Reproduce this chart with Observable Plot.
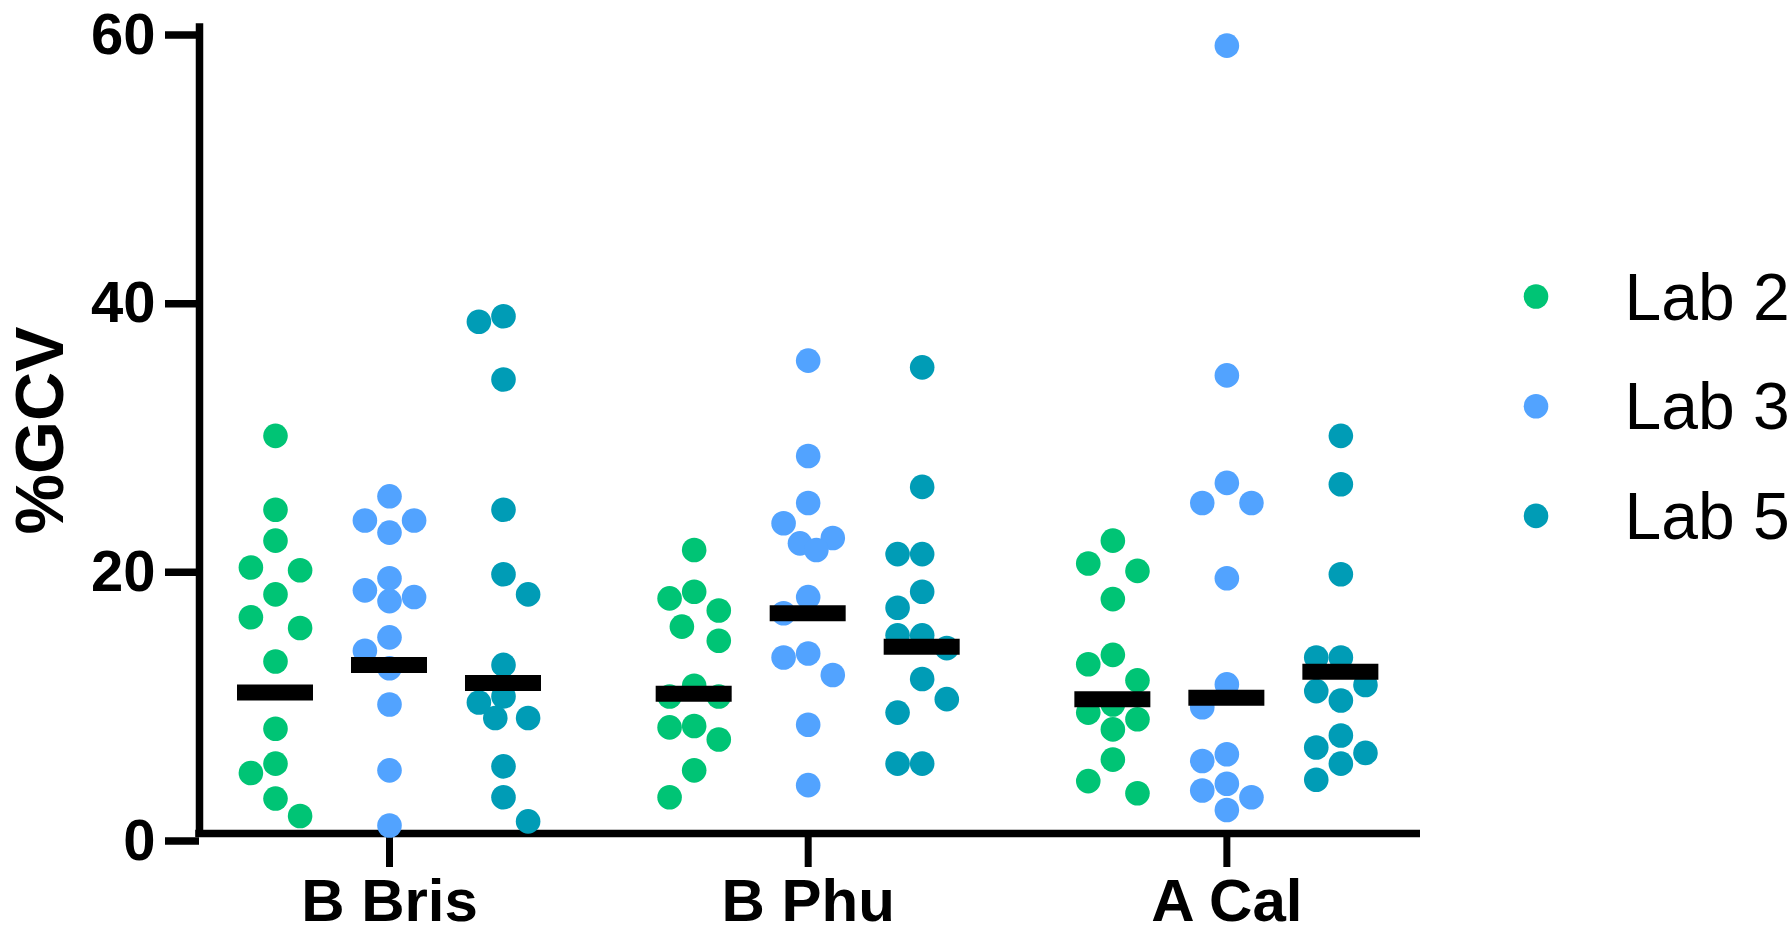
<!DOCTYPE html>
<html>
<head>
<meta charset="utf-8">
<script src="https://cdn.jsdelivr.net/npm/d3@7"></script>
<script src="https://cdn.jsdelivr.net/npm/@observablehq/plot@0.6"></script>
<style>
  html, body { margin: 0; padding: 0; background: #fff; overflow: hidden; }
  #chart svg { display: block; }
</style>
</head>
<body>
<div id="chart"></div>
<script>
// ---------- data ----------
const categories = ["B Bris", "B Phu", "A Cal"];
const labs = ["Lab 2", "Lab 3", "Lab 5"];
const labColors = ["#00C475", "#52A3FF", "#009CB6"];
const yTicks = [0, 20, 40, 60];

const bBrisLab2 = [29.6, 24.1, 21.8, 19.8, 19.6, 17.8, 16.1, 15.3, 12.8, 7.8, 5.2, 4.5, 2.6, 1.3];
const bBrisLab3 = [25.1, 23.3, 23.3, 22.4, 19.0, 18.1, 17.6, 17.3, 14.6, 13.6, 12.3, 9.6, 4.7, 0.6];
const bBrisLab5 = [38.5, 38.1, 33.8, 24.1, 19.3, 17.8, 12.55, 10.2, 9.75, 8.6, 8.6, 5.0, 2.7, 0.9];
const bPhuLab2  = [21.1, 18.0, 17.5, 16.6, 15.4, 14.35, 11.0, 10.2, 10.2, 8.0, 7.9, 7.0, 4.7, 2.7];
const bPhuLab3  = [35.2, 28.1, 24.6, 23.1, 22.0, 21.6, 21.1, 17.6, 16.4, 13.4, 13.1, 11.8, 8.1, 3.6];
const bPhuLab5  = [34.7, 25.8, 20.8, 20.8, 18.0, 16.8, 14.75, 14.75, 13.8, 11.5, 10.0, 9.0, 5.2, 5.2];
const aCalLab2  = [21.8, 20.1, 19.55, 17.45, 13.3, 12.6, 11.4, 9.6, 9.0, 8.5, 7.75, 5.5, 3.9, 3.0];
const aCalLab3  = [58.65, 34.1, 26.1, 24.6, 24.6, 19.0, 11.1, 9.4, 5.9, 5.4, 3.7, 3.2, 2.7, 1.75];
const aCalLab5  = [29.6, 26.0, 19.3, 13.1, 13.1, 11.05, 10.6, 9.9, 7.3, 6.4, 6.0, 5.2, 4.0];

// geometric-mean bars per lab, in category order
const meanLab2 = [10.5, 10.4, 10.0];
const meanLab3 = [12.55, 16.4, 10.1];
const meanLab5 = [11.2, 13.9, 12.05];

// ---------- layout ----------
const W = 1791, H = 934;
const margin = {left: 199, right: 371, top: 27, bottom: 101};
const xDomain = [-0.4538, 2.4625];
const yDomain = [0, 60];
const R = 12.3;               // dot radius (px)
const labGapPx = 114;         // distance between lab columns (px)
const barHalfPx = 38;         // half width of mean bar (px)
const axisW = 7.5;            // axis line width (px)

const pxPerUnit = (W - margin.left - margin.right) / (xDomain[1] - xDomain[0]);
const yPx = v => (H - margin.bottom) - (v - yDomain[0]) / (yDomain[1] - yDomain[0]) * (H - margin.bottom - margin.top);

const groups = [
  [bBrisLab2, bBrisLab3, bBrisLab5],
  [bPhuLab2, bPhuLab3, bPhuLab5],
  [aCalLab2, aCalLab3, aCalLab5]
];
const means = [meanLab2, meanLab3, meanLab5];

// column beeswarm (offsets in px) computed from the values, width limited to +-1 dot
function swarm(values) {
  const D = 2 * R, T = 1.2 * D;
  const placed = [];
  let nl = 0, nr = 0;
  return values.map(v => {
    const py = yPx(v);
    const minDist = c => placed.reduce((m, p) => Math.min(m, Math.hypot(p.dx - c, p.py - py)), Infinity);
    let chosen = null;
    if (minDist(0) >= T) chosen = 0;
    else {
      for (const m of [D, D / 2, D / 3]) {
        const first = nl <= nr ? -m : m;
        if (minDist(first) >= T) { chosen = first; break; }
        if (minDist(-first) >= T) { chosen = -first; break; }
      }
    }
    if (chosen === null) {
      const cands = [0, -D, D, -D / 2, D / 2, -D / 3, D / 3];
      chosen = cands.reduce((best, c) => minDist(c) > minDist(best) ? c : best, 0);
    }
    if (chosen < 0) nl++; else if (chosen > 0) nr++;
    placed.push({dx: chosen, py});
    return chosen;
  });
}

const points = [];
const bars = [];
categories.forEach((cat, ci) => {
  labs.forEach((lab, li) => {
    const cx = ci + (li - 1) * labGapPx / pxPerUnit;
    const vals = groups[ci][li];
    const offs = swarm(vals);
    vals.forEach((v, k) => points.push({category: cat, lab, value: v, x: cx + offs[k] / pxPerUnit}));
    bars.push({category: cat, lab, value: means[li][ci], cx});
  });
});

const font = "'Liberation Sans', Arial, Helvetica, sans-serif";
const legendTopPx = 296, legendStepPx = 109.7;

const chart = Plot.plot({
  width: W,
  height: H,
  marginLeft: margin.left,
  marginRight: margin.right,
  marginTop: margin.top,
  marginBottom: margin.bottom,
  style: {fontFamily: font, background: "#fff", color: "#000"},
  x: {domain: xDomain, axis: null},
  y: {domain: yDomain, axis: null},
  color: {domain: labs, range: labColors},
  marks: [
    Plot.axisY({ticks: yTicks, tickSize: 34, tickPadding: 10, fontSize: 58, fontWeight: "bold",
                strokeWidth: axisW, tickFormat: d => String(d), label: null, dy: 7.5}),
    Plot.axisX({ticks: [0, 1, 2], tickSize: 34, tickPadding: 11, fontSize: 60, fontWeight: "bold",
                strokeWidth: 7, tickFormat: i => categories[i], label: null}),
    Plot.ruleX([xDomain[0]], {y1: yDomain[0], y2: yDomain[1], strokeWidth: axisW, strokeLinecap: "square"}),
    Plot.ruleY([0], {x1: xDomain[0] - axisW / 2 / pxPerUnit, x2: xDomain[1], strokeWidth: axisW, strokeLinecap: "butt"}),
    Plot.text(["%GCV"], {frameAnchor: "left", rotate: -90, dx: -158, fontSize: 68, fontWeight: "bold", textAnchor: "middle"}),
    Plot.dot(points, {x: "x", y: "value", r: R, fill: "lab", stroke: null}),
    Plot.ruleY(bars, {y: "value", x1: d => d.cx - barHalfPx / pxPerUnit, x2: d => d.cx + barHalfPx / pxPerUnit,
                      stroke: "#000", strokeWidth: 16}),
    ...labs.map((lab, i) => Plot.dot([lab], {frameAnchor: "top-right", dx: 115.5, dy: legendTopPx - margin.top + i * legendStepPx,
                                              r: R, fill: d => d})),
    ...labs.map((lab, i) => Plot.text([lab], {frameAnchor: "top-right", dx: 204, dy: legendTopPx - margin.top + i * legendStepPx + 2,
                                               text: d => d, textAnchor: "start", lineAnchor: "middle", fontSize: 66, fill: "#000"}))
  ]
});
document.getElementById("chart").appendChild(chart);
</script>
</body>
</html>
